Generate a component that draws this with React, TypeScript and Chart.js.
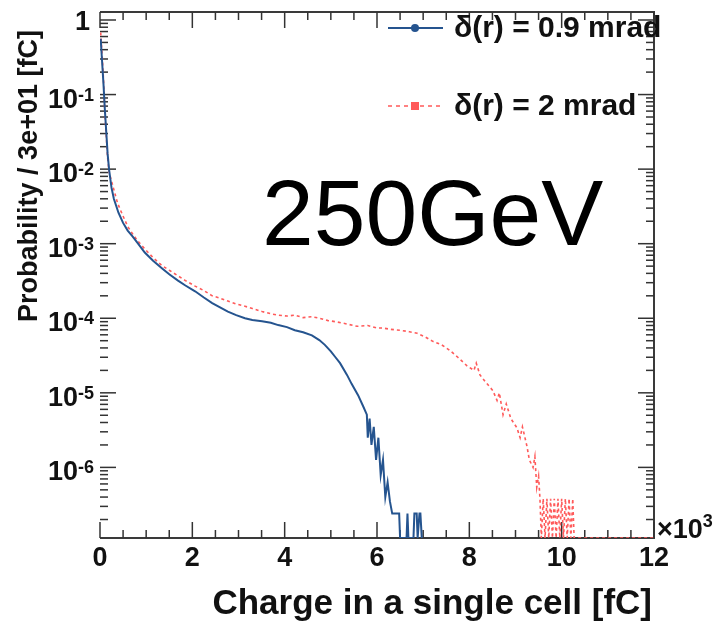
import React, { useEffect, useRef } from 'react';
import { Chart, registerables } from 'chart.js';

Chart.register(...registerables);

// ---- data (x in units of 10^3 fC, y = probability per 30 fC bin) ----
const blueCharge = [
  0.015, 0.045, 0.075, 0.105, 0.135, 0.165, 0.2, 0.25, 0.3, 0.4, 0.5, 0.6, 0.7, 0.8, 0.97,
  1.15, 1.34, 1.5, 1.69, 1.85, 2.06, 2.25, 2.43, 2.6, 2.77, 2.95, 3.14, 3.3, 3.51,
  3.7, 3.86, 4.05, 4.22, 4.4, 4.59, 4.75, 4.87, 5.0, 5.1, 5.2, 5.35, 5.45, 5.59,
  5.7, 5.78, 5.8, 5.84, 5.88, 5.93, 5.98, 6.03, 6.08, 6.13, 6.18, 6.23, 6.28, 6.33,
  6.38, 6.44, 6.48, 6.5, 6.64, 6.66, 6.68, 6.79, 6.81, 6.86, 6.88, 6.92, 6.94, 6.97,
];
const blueProb = [
  0.56, 0.28, 0.14, 0.063, 0.032, 0.016, 0.0095, 0.0056, 0.004, 0.0026, 0.0019, 0.0015,
  0.00126, 0.00105, 7.6e-4, 5.9e-4, 4.7e-4, 3.9e-4, 3.2e-4, 2.75e-4, 2.3e-4, 1.9e-4,
  1.6e-4, 1.4e-4, 1.23e-4, 1.1e-4, 1.0e-4, 9.5e-5, 9.1e-5, 8.7e-5, 8.1e-5, 7.6e-5,
  6.9e-5, 6.5e-5, 5.9e-5, 5.1e-5, 4.4e-5, 3.6e-5, 3.0e-5, 2.5e-5, 1.74e-5, 1.32e-5,
  9.3e-6, 6.6e-6, 5.1e-6, 2.5e-6, 4.5e-6, 2.0e-6, 3.5e-6, 1.26e-6, 2.5e-6, 7.9e-7,
  1.26e-6, 4.0e-7, 6.3e-7, 3.5e-7, 2.4e-7, 2.4e-7, 2.4e-7, 2.4e-7, 0, 0, 2.4e-7, 0, 0,
  2.4e-7, 2.4e-7, 0, 2.4e-7, 2.4e-7, 0,
];
const redCharge = [
  0.015, 0.045, 0.075, 0.105, 0.135, 0.165, 0.2, 0.28, 0.38, 0.48, 0.6, 0.69, 0.8, 0.97, 1.15,
  1.34, 1.5, 1.69, 1.85, 2.06, 2.25, 2.43, 2.6, 2.77, 2.95, 3.14, 3.3, 3.51, 3.7, 3.86,
  4.05, 4.22, 4.4, 4.59, 4.75, 4.94, 5.1, 5.3, 5.57, 5.8, 6.0, 6.13, 6.3, 6.5, 6.7,
  6.87, 7.05, 7.21, 7.4, 7.58, 7.75, 7.95, 8.1, 8.15, 8.23, 8.35, 8.51, 8.6, 8.65,
  8.73, 8.8, 8.9, 9.03, 9.1, 9.15, 9.25, 9.3, 9.38, 9.42, 9.46, 9.5, 9.53, 9.56, 9.6,
  9.64, 9.68, 9.72, 9.76, 9.8, 9.84, 9.88, 9.92, 9.96, 10.0, 10.04, 10.08, 10.12, 10.16,
  10.2, 10.24, 10.27, 12,
];
const redProb = [
  0.68, 0.35, 0.16, 0.056, 0.028, 0.014, 0.0089, 0.0059, 0.0035, 0.0025, 0.0017, 0.0014,
  0.00112, 8.5e-4, 6.5e-4, 5.1e-4, 4.4e-4, 3.7e-4, 3.2e-4, 2.7e-4, 2.35e-4, 2.0e-4,
  1.86e-4, 1.7e-4, 1.55e-4, 1.45e-4, 1.35e-4, 1.23e-4, 1.15e-4, 1.1e-4, 1.07e-4, 1.1e-4,
  1.02e-4, 1.05e-4, 1.0e-4, 9.3e-5, 9.0e-5, 8.5e-5, 7.8e-5, 8.0e-5, 7.4e-5, 7.4e-5,
  7.1e-5, 6.9e-5, 6.6e-5, 6.3e-5, 5.6e-5, 4.9e-5, 4.4e-5, 3.7e-5, 3.0e-5, 2.3e-5,
  2.0e-5, 2.5e-5, 1.74e-5, 1.4e-5, 1.07e-5, 7.9e-6, 1.0e-5, 5.1e-6, 7.1e-6, 4.5e-6,
  3.4e-6, 2.5e-6, 3.5e-6, 1.9e-6, 1.26e-6, 1.0e-6, 1.4e-6, 5.4e-7, 7.6e-7, 3.8e-7, 0,
  3.8e-7, 0, 3.8e-7, 0, 3.8e-7, 0, 3.8e-7, 0, 3.8e-7, 0, 3.8e-7, 0, 3.8e-7, 0, 3.8e-7,
  0, 3.8e-7, 0, 0,
];

const xTickValues = [0, 2, 4, 6, 8, 10, 12];
const xTickLabels = ['0', '2', '4', '6', '8', '10', '12'];
const yDecadeExponents = [0, -1, -2, -3, -4, -5, -6];
const seriesLabels = ['δ(r) = 0.9 mrad', 'δ(r) = 2 mrad'];
const energyLabel = '250GeV';
const xTitle = 'Charge in a single cell [fC]';
const yTitle = 'Probability / 3e+01 [fC]';
const xMultiplier = '×10';
const xMultiplierExp = '3';

const X_MIN = 0;
const X_MAX = 12;
const Y_MIN = 1.13e-7;
const Y_MAX = 1.28;

const BLUE = '#25548f';
const RED = '#ff5a5a';
const FONT = '"Liberation Sans", Arial, Helvetica, sans-serif';

const rootStyle = {
  id: 'rootStyle',
  beforeDatasetsDraw(chart: any) {
    const { ctx, chartArea: a, scales } = chart;
    const xs = scales.x;
    const ys = scales.y;
    ctx.save();
    ctx.strokeStyle = '#3a3a3a';
    ctx.lineWidth = 2;
    ctx.beginPath();
    ctx.moveTo(a.left, a.top);
    ctx.lineTo(a.right, a.top);
    ctx.lineTo(a.right, a.bottom);
    ctx.lineTo(a.left, a.bottom);
    ctx.stroke();

    ctx.lineWidth = 1.5;
    ctx.strokeStyle = '#333';
    const seg = (x1: number, y1: number, x2: number, y2: number) => {
      ctx.beginPath();
      ctx.moveTo(x1, y1);
      ctx.lineTo(x2, y2);
      ctx.stroke();
    };
    for (let i = 0; i <= (X_MAX - X_MIN) * 2; i++) {
      const v = X_MIN + i * 0.5;
      const px = xs.getPixelForValue(v);
      const len = i % 4 === 0 ? 16 : 8;
      seg(px, a.bottom, px, a.bottom - len);
      seg(px, a.top, px, a.top + len);
    }
    for (let e = -7; e <= 0; e++) {
      for (let k = 1; k <= 9; k++) {
        const v = k * Math.pow(10, e);
        if (v < Y_MIN || v > Y_MAX) continue;
        const py = ys.getPixelForValue(v);
        const len = k === 1 ? 16 : 8;
        seg(a.left, py, a.left + len, py);
        seg(a.right, py, a.right - len, py);
      }
    }
    ctx.restore();
  },
  afterDraw(chart: any) {
    const { ctx, chartArea: a, scales } = chart;
    const xs = scales.x;
    const ys = scales.y;
    ctx.save();
    ctx.fillStyle = '#111';
    ctx.textBaseline = 'alphabetic';

    // y tick labels
    const bigFont = `bold 27px ${FONT}`;
    const supFont = `bold 18px ${FONT}`;
    const rightEdge = a.left - 6;
    yDecadeExponents.forEach((e) => {
      const py = ys.getPixelForValue(Math.pow(10, e));
      if (e === 0) {
        ctx.font = bigFont;
        ctx.textAlign = 'right';
        ctx.fillText('1', rightEdge - 4, py + 10);
        return;
      }
      const sup = String(e);
      ctx.font = supFont;
      const wSup = ctx.measureText(sup).width;
      ctx.font = bigFont;
      const wBase = ctx.measureText('10').width;
      ctx.textAlign = 'left';
      const x0 = rightEdge - wSup - wBase;
      ctx.fillText('10', x0, py + 13);
      ctx.font = supFont;
      ctx.fillText(sup, x0 + wBase, py + 6);
    });

    // x tick labels
    ctx.font = bigFont;
    ctx.textAlign = 'center';
    xTickValues.forEach((v, i) => {
      ctx.fillText(xTickLabels[i], xs.getPixelForValue(v), a.bottom + 28);
    });
    // x multiplier
    ctx.textAlign = 'left';
    ctx.font = bigFont;
    ctx.fillText(xMultiplier, a.right + 3, a.bottom);
    const wm = ctx.measureText(xMultiplier).width;
    ctx.font = supFont;
    ctx.fillText(xMultiplierExp, a.right + 3 + wm, a.bottom - 11);

    // axis titles
    ctx.font = `bold 35px ${FONT}`;
    ctx.textAlign = 'right';
    ctx.fillText(xTitle, a.right - 2, 614);

    ctx.save();
    ctx.translate(37, 176);
    ctx.rotate(-Math.PI / 2);
    ctx.font = `bold 27px ${FONT}`;
    ctx.textAlign = 'center';
    ctx.fillText(yTitle, 0, 0);
    ctx.restore();

    // legend
    const legendRows = [28, 106];
    const colors = [BLUE, RED];
    legendRows.forEach((ly, i) => {
      ctx.save();
      ctx.strokeStyle = colors[i];
      ctx.lineWidth = i === 0 ? 2 : 1.5;
      ctx.setLineDash(i === 0 ? [] : [4, 4]);
      ctx.beginPath();
      ctx.moveTo(388, ly);
      ctx.lineTo(443, ly);
      ctx.stroke();
      ctx.setLineDash([]);
      ctx.fillStyle = colors[i];
      if (i === 0) {
        ctx.beginPath();
        ctx.arc(415, ly, 4, 0, Math.PI * 2);
        ctx.fill();
      } else {
        ctx.fillRect(411, ly - 4, 8, 8);
      }
      ctx.restore();
      ctx.font = `bold 30px ${FONT}`;
      ctx.textAlign = 'left';
      ctx.textBaseline = 'middle';
      ctx.fillStyle = '#111';
      ctx.fillText(seriesLabels[i], 454, ly + 1);
      ctx.textBaseline = 'alphabetic';
    });

    // energy annotation
    ctx.font = `93px ${FONT}`;
    ctx.fillStyle = '#000';
    ctx.textAlign = 'left';
    ctx.fillText(energyLabel, 262, 245);
    ctx.restore();
  },
};

export default function App() {
  const ref = useRef<HTMLCanvasElement>(null);
  useEffect(() => {
    if (!ref.current) return;
    const toPts = (xs: number[], ys: number[]) =>
      xs.map((x, i) => ({ x, y: Math.max(ys[i], Y_MIN) }));
    const chart = new Chart(ref.current, {
      type: 'line',
      data: {
        datasets: [
          {
            label: seriesLabels[0],
            data: toPts(blueCharge, blueProb),
            borderColor: BLUE,
            borderWidth: 2,
            pointRadius: 0,
            tension: 0,
            fill: false,
          },
          {
            label: seriesLabels[1],
            data: toPts(redCharge, redProb),
            borderColor: RED,
            borderWidth: 1.6,
            borderDash: [3, 3],
            pointRadius: 0,
            tension: 0,
            fill: false,
          },
        ],
      },
      options: {
        responsive: false,
        animation: false,
        devicePixelRatio: 1,
        layout: { padding: { left: 100, top: 12, right: 61, bottom: 92 } },
        plugins: { legend: { display: false }, tooltip: { enabled: false } },
        scales: {
          x: { type: 'linear', min: X_MIN, max: X_MAX, display: false },
          y: { type: 'logarithmic', min: Y_MIN, max: Y_MAX, display: false },
        },
      },
      plugins: [rootStyle],
    });
    return () => chart.destroy();
  }, []);
  return (
    <div style={{ position: 'fixed', left: 0, top: 0, width: 715, height: 630, background: '#fff' }}>
      <canvas ref={ref} width={715} height={630} style={{ display: 'block' }} />
    </div>
  );
}
